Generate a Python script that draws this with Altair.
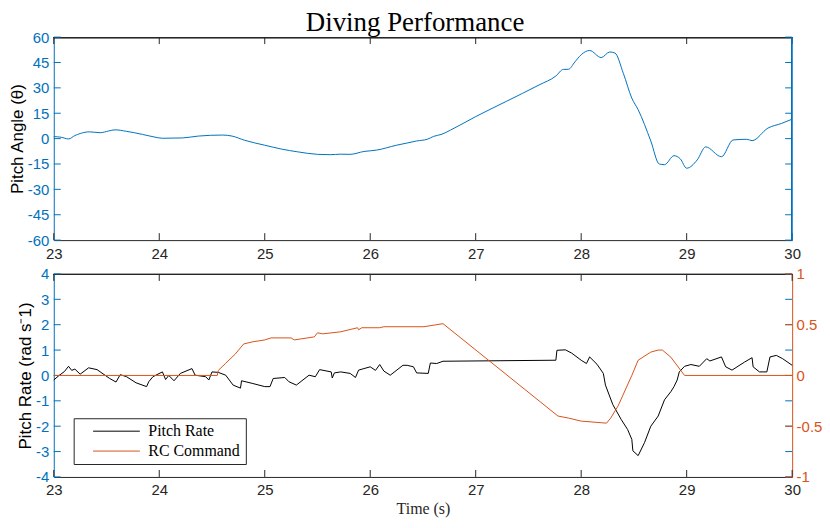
import altair as alt
import pandas as pd

# ---------------- data ----------------
angle_t = [23.00, 23.07, 23.14, 23.20, 23.25, 23.34, 23.44, 23.52, 23.58, 23.69,
           23.84, 23.95, 24.03, 24.22, 24.37, 24.60, 24.69, 24.81, 25.00, 25.16,
           25.31, 25.50, 25.62, 25.72, 25.81, 25.94, 26.06, 26.25, 26.35, 26.44,
           26.54, 26.60, 26.68, 26.76, 27.00, 27.29, 27.60, 27.76, 27.83, 27.88,
           27.94, 28.00, 28.08, 28.19, 28.27, 28.32, 28.40, 28.48, 28.54, 28.66,
           28.74, 28.79, 28.88, 28.94, 29.00, 29.10, 29.18, 29.33, 29.44, 29.57,
           29.62, 29.77, 29.90, 30.00]
angle_v = [1.2, 0.8, -0.2, 1.8, 3.0, 4.0, 3.5, 4.5, 5.2, 4.3,
           2.5, 1.0, 0.2, 0.4, 1.5, 2.1, 1.5, -1.0, -3.9, -6.2,
           -7.8, -9.3, -9.5, -9.2, -9.3, -7.6, -6.8, -3.9, -2.6, -1.4,
           -0.4, 1.3, 2.6, 5.0, 13.0, 22.0, 31.7, 37.0, 40.9, 41.0,
           45.3, 49.6, 52.1, 47.9, 51.2, 50.6, 38.5, 23.9, 17.1, -1.4,
           -15.0, -15.4, -10.1, -12.0, -17.5, -12.6, -4.9, -10.7, -0.8, -0.4,
           -1.2, 6.2, 9.0, 11.5]

rate_t = [23.00, 23.05, 23.10, 23.14, 23.17, 23.20, 23.25, 23.33, 23.41, 23.53,
          23.59, 23.63, 23.69, 23.78, 23.88, 23.90, 23.94, 24.03, 24.06, 24.09,
          24.14, 24.20, 24.31, 24.34, 24.44, 24.47, 24.50, 24.56, 24.63, 24.70,
          24.77, 24.78, 24.88, 25.00, 25.05, 25.08, 25.19, 25.23, 25.30, 25.42,
          25.48, 25.52, 25.63, 25.64, 25.66, 25.72, 25.81, 25.86, 25.89, 25.94,
          26.00, 26.05, 26.09, 26.13, 26.19, 26.31, 26.35, 26.41, 26.44, 26.55,
          26.57, 26.63, 26.69, 27.76, 27.77, 27.85, 27.91, 28.00, 28.05, 28.08,
          28.15, 28.21, 28.23, 28.30, 28.38, 28.44, 28.48, 28.49, 28.54, 28.60,
          28.66, 28.73, 28.79, 28.85, 28.88, 28.91, 28.93, 28.98, 29.04, 29.12,
          29.19, 29.22, 29.33, 29.37, 29.43, 29.55, 29.62, 29.63, 29.69, 29.76,
          29.79, 29.85, 29.91, 30.00]
rate_v = [-0.18, 0.00, 0.15, 0.36, 0.20, 0.25, 0.05, 0.30, 0.23, -0.12,
          -0.26, 0.03, -0.05, -0.29, -0.44, -0.25, -0.05, 0.14, -0.16, 0.00,
          -0.21, 0.08, 0.27, 0.01, -0.05, -0.18, 0.14, 0.12, 0.01, -0.38,
          -0.50, -0.21, -0.31, -0.44, -0.44, -0.12, -0.08, -0.25, -0.38, 0.01,
          -0.05, 0.23, 0.14, -0.10, 0.10, 0.14, 0.08, -0.08, 0.21, 0.27,
          0.34, 0.20, 0.43, 0.17, 0.01, 0.40, 0.40, 0.34, 0.10, 0.08,
          0.49, 0.47, 0.56, 0.60, 0.99, 1.01, 0.88, 0.60, 0.47, 0.73,
          0.44, 0.08, -0.38, -1.15, -1.74, -2.13, -2.52, -2.97, -3.16, -2.65,
          -2.00, -1.60, -0.96, -0.64, -0.44, -0.18, 0.14, 0.36, 0.43, 0.36,
          0.66, 0.57, 0.73, 0.34, 0.21, 0.53, 0.70, 0.34, 0.14, 0.14,
          0.73, 0.79, 0.66, 0.40]

cmd_t = [23.00, 24.55, 24.56, 24.63, 24.72, 24.80, 24.88, 25.00, 25.06, 25.25,
         25.28, 25.47, 25.50, 25.55, 25.72, 25.88, 25.89, 25.92, 26.09, 26.13,
         26.51, 26.69, 27.78, 27.88, 28.00, 28.24, 28.28, 28.35, 28.48, 28.54,
         28.66, 28.73, 28.77, 28.85, 28.98, 30.00]
cmd_v = [0.00, 0.00, 0.05, 0.12, 0.21, 0.31, 0.33, 0.35, 0.37, 0.37,
         0.35, 0.38, 0.42, 0.41, 0.43, 0.47, 0.45, 0.47, 0.47, 0.48,
         0.48, 0.51, -0.40, -0.42, -0.45, -0.47, -0.42, -0.30, 0.00, 0.15,
         0.23, 0.25, 0.25, 0.18, 0.00, 0.00]

series_names = ["Pitch Rate", "RC Command"]
x_ticks = [23, 24, 25, 26, 27, 28, 29, 30]
angle_ticks = [-60, -45, -30, -15, 0, 15, 30, 45, 60]
rate_ticks = [-4, -3, -2, -1, 0, 1, 2, 3, 4]
cmd_ticks = [-1, -0.5, 0, 0.5, 1]

# ---------------- style ----------------
W, H = 742, 204
TL = 7
BLUE = "#0072BD"
ORANGE = "#D95319"
DARK = "#262626"
SANS = "Liberation Sans"
SERIF = "Liberation Serif"
LBL = "datum.value < 0 ? '-' + format(-datum.value, '~g') : format(datum.value, '~g')"

angle_df = pd.DataFrame({"t": angle_t, "v": angle_v})
rate_df = pd.DataFrame({"t": rate_t, "v": rate_v, "series": series_names[0]})
cmd_df = pd.DataFrame({"t": cmd_t, "c": cmd_v, "series": series_names[1]})
xt_df = pd.DataFrame({"t": x_ticks})
at_df = pd.DataFrame({"v": angle_ticks})
rt_df = pd.DataFrame({"v": rate_ticks})
ct_df = pd.DataFrame({"c": cmd_ticks})

xscale = alt.Scale(domain=[23, 30], nice=False, zero=False)


def x_axis(title=None):
    kw = dict(values=x_ticks, grid=False, ticks=False, domainColor=DARK, labelColor=DARK,
              labelFont=SANS, labelFontSize=15, labelPadding=6, labelExpr=LBL,
              labelFlush=False)
    if title:
        kw.update(title=title, titleFont=SERIF, titleFontSize=16, titleFontWeight="normal",
                  titleColor=DARK, titlePadding=3)
    else:
        kw.update(title=None)
    return alt.Axis(**kw)


def left_axis(values, title):
    return alt.Axis(values=values, grid=False, ticks=False, domainColor=BLUE, labelColor=BLUE,
                    labelFont=SANS, labelFontSize=15, labelPadding=5, labelExpr=LBL,
                    title=title, titleFont=SANS, titleFontSize=17, titleFontWeight="normal",
                    titleColor="#000000", titlePadding=1)


def frame_layers(xax, ydf, yfield, yscale, yax, ycolor):
    bot = alt.Chart(xt_df).mark_rule(color=DARK, strokeWidth=1).encode(
        x=alt.X("t:Q", scale=xscale, axis=xax), y=alt.value(H), y2=alt.value(H - TL))
    top = alt.Chart(xt_df).mark_rule(color=DARK, strokeWidth=1).encode(
        x=alt.X("t:Q", scale=xscale, axis=xax), y=alt.value(0), y2=alt.value(TL))
    border = alt.Chart(xt_df).mark_rule(color=DARK, strokeWidth=1).encode(
        x=alt.value(0), x2=alt.value(W), y=alt.value(0.5))
    lt = alt.Chart(ydf).mark_rule(color=ycolor, strokeWidth=1).encode(
        y=alt.Y(yfield + ":Q", scale=yscale, axis=yax), x=alt.value(0), x2=alt.value(TL))
    rt = alt.Chart(ydf).mark_rule(color=ycolor, strokeWidth=1).encode(
        y=alt.Y(yfield + ":Q", scale=yscale, axis=yax), x=alt.value(W), x2=alt.value(W - TL))
    return [bot, top, border, lt, rt]


# ---------------- top panel ----------------
ascale = alt.Scale(domain=[-60, 60], nice=False)
top_x_axis = x_axis()
angle_axis = left_axis(angle_ticks, "Pitch Angle (θ)")
angle_line = alt.Chart(angle_df).mark_line(color=BLUE, strokeWidth=1, interpolate="monotone").encode(
    x=alt.X("t:Q", scale=xscale, axis=top_x_axis),
    y=alt.Y("v:Q", scale=ascale, axis=angle_axis),
)
right_border_top = alt.Chart(at_df).mark_rule(color=BLUE, strokeWidth=1).encode(
    x=alt.value(W - 0.5), y=alt.value(0), y2=alt.value(H))
top_panel = alt.layer(
    angle_line, *frame_layers(top_x_axis, at_df, "v", ascale, angle_axis, BLUE), right_border_top
).properties(width=W, height=H)

# ---------------- bottom panel ----------------
rscale = alt.Scale(domain=[-4, 4], nice=False)
cscale = alt.Scale(domain=[-1, 1], nice=False)
bot_x_axis = x_axis("Time (s)")
rate_axis = left_axis(rate_ticks, "Pitch Rate (rad s⁻1)")
cmd_axis = alt.Axis(orient="right", values=cmd_ticks, grid=False, ticks=False,
                    domainColor=ORANGE, labelColor=ORANGE, labelFont=SANS,
                    labelFontSize=15, labelPadding=4, labelExpr=LBL, title=None)
color = alt.Color(
    "series:N",
    scale=alt.Scale(domain=series_names, range=["#000000", ORANGE]),
    legend=alt.Legend(orient="none", legendX=20, legendY=145, title=None, direction="vertical",
                      symbolType="stroke", symbolSize=2209, symbolStrokeWidth=1, clipHeight=16,
                      symbolOffset=14, labelOffset=8, labelFont=SERIF, labelFontSize=16,
                      labelColor="#000000", strokeColor=DARK, fillColor="white", padding=5,
                      rowPadding=4),
)
rate_line = alt.Chart(rate_df).mark_line(strokeWidth=1).encode(
    x=alt.X("t:Q", scale=xscale, axis=bot_x_axis),
    y=alt.Y("v:Q", scale=rscale, axis=rate_axis),
    color=color,
)
left_group = alt.layer(rate_line, *frame_layers(bot_x_axis, rt_df, "v", rscale, rate_axis, BLUE))

cmd_line = alt.Chart(cmd_df).mark_line(strokeWidth=1).encode(
    x=alt.X("t:Q", scale=xscale, axis=bot_x_axis),
    y=alt.Y("c:Q", scale=cscale, axis=cmd_axis),
    color=color,
)
cmd_ticks_r = alt.Chart(ct_df).mark_rule(color=ORANGE, strokeWidth=1).encode(
    y=alt.Y("c:Q", scale=cscale, axis=cmd_axis), x=alt.value(W), x2=alt.value(W - TL))
right_group = alt.layer(cmd_line, cmd_ticks_r)

bottom_panel = alt.layer(left_group, right_group).resolve_scale(y="independent").properties(
    width=W, height=H)

chart = alt.vconcat(top_panel, bottom_panel, spacing=34, bounds="flush").resolve_scale(
    color="independent"
).properties(
    title=alt.TitleParams("Diving Performance", font=SERIF, fontSize=27, fontWeight="normal",
                          color="#000000", anchor="middle", offset=-7),
    padding={"left": 0, "right": 0, "top": 0, "bottom": 0},
).configure_view(stroke=None)

chart.save("out.html", embed_options={"renderer": "svg", "actions": False})
